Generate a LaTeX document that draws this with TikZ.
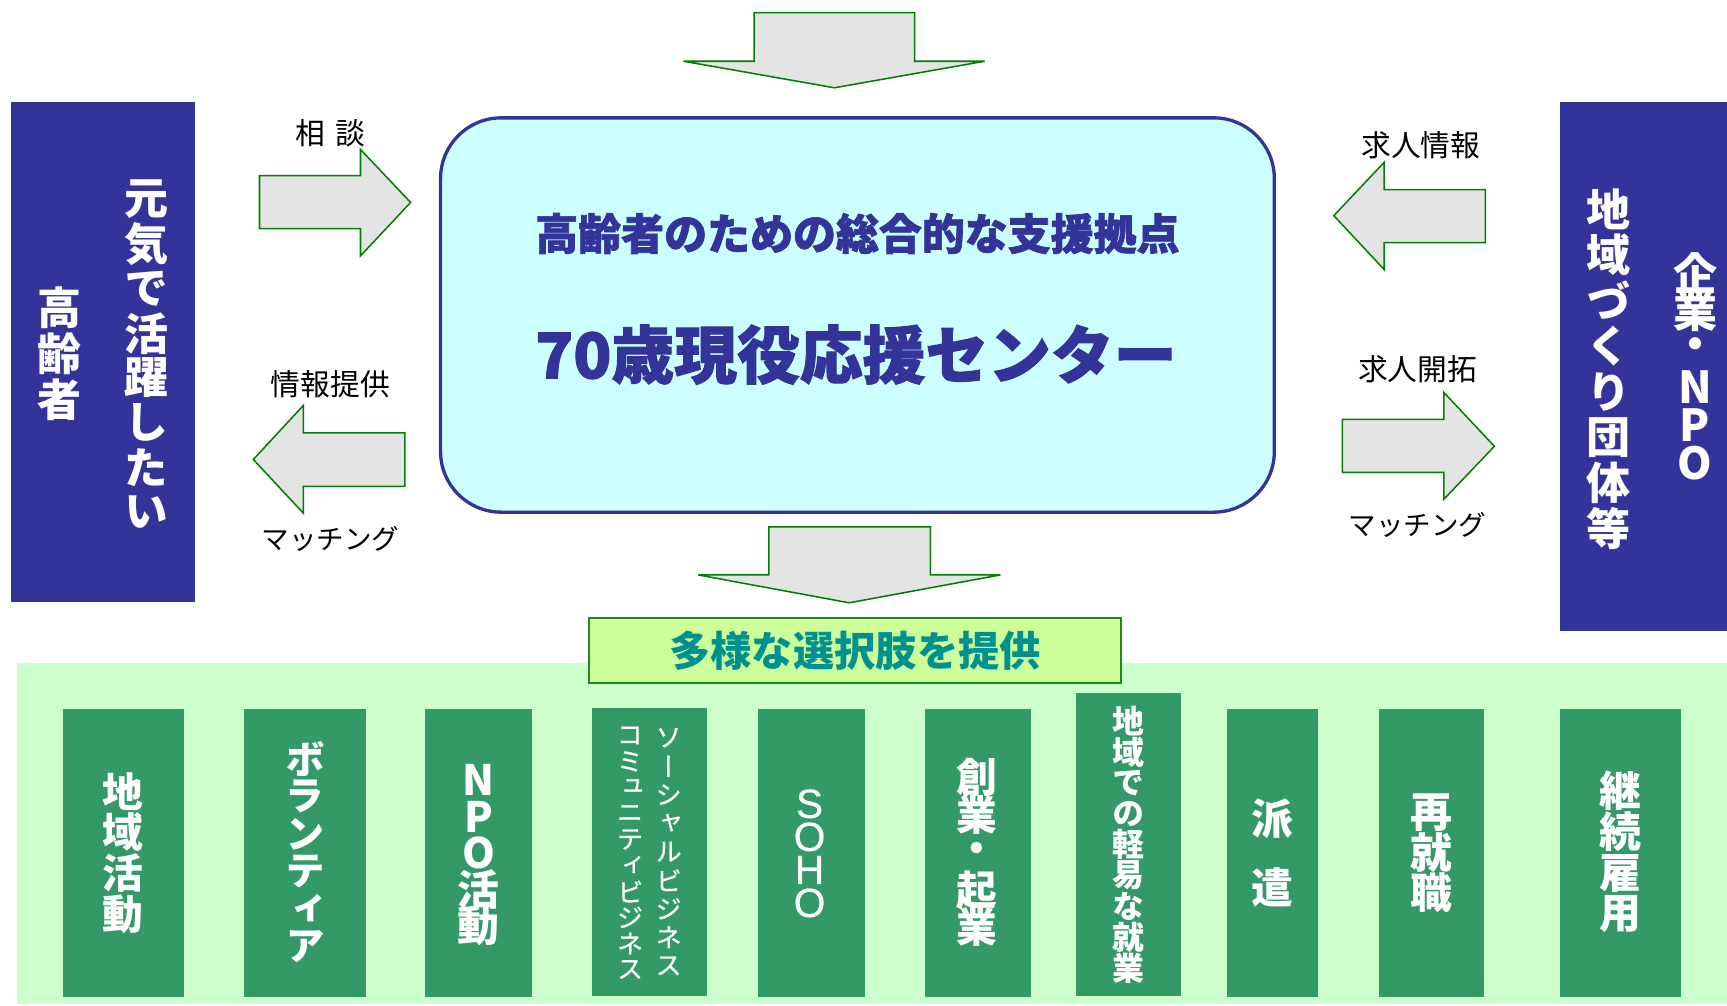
\documentclass[tikz,border=0pt]{standalone}
\usepackage{fontspec}
\usepackage{graphicx}
\newfontfamily\jp{Noto Sans CJK JP}
\newfontfamily\jpv{Noto Sans CJK JP}[RawFeature=+vert]
\newfontfamily\jpvm{Noto Sans CJK JP}[RawFeature=+vert, FakeBold=0.6]
\newfontfamily\jph{Noto Sans CJK JP}[BoldFeatures={FakeBold=1.6}]
\newfontfamily\lat{Liberation Sans}[FakeBold=0.5]
\definecolor{myblue}{HTML}{333399}
\definecolor{cyanfill}{HTML}{CCFFFF}
\definecolor{arrowgray}{HTML}{E4E4E4}
\definecolor{arrowgreen}{HTML}{008000}
\definecolor{titlefill}{HTML}{CCFF99}
\definecolor{titleborder}{HTML}{1E8A1E}
\definecolor{tealtext}{HTML}{009090}
\definecolor{areagreen}{HTML}{CCFFCC}
\definecolor{colgreen}{HTML}{339966}
\makeatletter
\newdimen\vtstep
\def\vt@end{\vt@end}
\newcommand\vt[2][1em]{\vbox{\offinterlineskip\vtstep=#1\relax\vt@aux#2\vt@end}}
\def\vt@aux#1{\ifx#1\vt@end\else\vbox to\vtstep{\vss\hbox to 1em{\hss#1\hss}\vss}\expandafter\vt@aux\fi}
\makeatother
\begin{document}
\begin{tikzpicture}[x=1pt,y=-1pt,
  bluebox/.style={fill=myblue, draw=none, inner sep=0pt},
  col/.style={fill=colgreen, draw=none, inner sep=0pt, minimum height=261},
  vtxt/.style={text=white, inner sep=0pt, font=\jpv\bfseries\fontsize{#1}{#1}\selectfont},
  vtxtr/.style={text=white, inner sep=0pt, font=\jpvm\fontsize{#1}{#1}\selectfont},
  lbl/.style={inner sep=0pt, text=black, font=\jp\fontsize{#1}{#1}\selectfont},
  blockarrow/.style={fill=arrowgray, draw=arrowgreen, line width=1.4, line join=miter}
]
\useasboundingbox (0,0) rectangle (1568,913);

% side boxes
\node[bluebox, minimum width=167, minimum height=454] (left) at (93.5,320) {};
\node[vtxt=40] (genki) at (133,323) {\vt[40.5pt]{元気で活躍したい}};
\node[vtxt=40] (koreisha) at (54,321) {\vt[42pt]{高齢者}};

\node[bluebox, minimum width=152, minimum height=480] (right) at (1492,333) {};
\node[vtxt=40] (chiiki) at (1460,335) {\vt[41.5pt]{地域づくり団体等}};
\node[vtxt=40] (kigyo) at (1539,334) {\vt[34.5pt]{企業・NPO}};

% center box
\node[draw=myblue, fill=cyanfill, line width=3, rounded corners=55,
      minimum width=757, minimum height=358, inner sep=0pt] (center) at (778.5,286) {};
\node[inner sep=0pt, text=myblue, font=\jph\bfseries\fontsize{39}{40}\selectfont] (sub) at (778.5,212) {高齢者のための総合的な支援拠点};
\node[inner sep=0pt, text=myblue, font=\jph\bfseries\fontsize{57}{60}\selectfont] (title) at (777,322) {70歳現役応援センター};

% top and bottom arrows
\draw[blockarrow] (684.6,11.5) -- (830.5,11.5) -- (830.5,55.6) -- (894,55.6) -- (757.6,79.7) -- (620.6,55.6) -- (684.6,55.6) -- cycle;
\draw[blockarrow] (698,478.4) -- (844.7,478.4) -- (844.7,522) -- (908.3,522) -- (771,547.3) -- (634,522) -- (698,522) -- cycle;

% left arrows
\draw[blockarrow] (235.6,159.4) -- (327.3,159.4) -- (327.3,135.7) -- (372.8,183.8) -- (327.3,232.3) -- (327.3,207.5) -- (235.6,207.5) -- cycle;
\draw[blockarrow] (367.6,393) -- (275.5,393) -- (275.5,368) -- (230,417.2) -- (275.5,466) -- (275.5,441.6) -- (367.6,441.6) -- cycle;
% right arrows
\draw[blockarrow] (1348.6,172.2) -- (1256.6,172.2) -- (1256.6,147.5) -- (1211,195.8) -- (1256.6,244.6) -- (1256.6,220.2) -- (1348.6,220.2) -- cycle;
\draw[blockarrow] (1218.7,380.8) -- (1311,380.8) -- (1311,356.4) -- (1356.8,405.2) -- (1311,453.2) -- (1311,428.8) -- (1218.7,428.8) -- cycle;

% arrow labels
\node[lbl=27] (soudan) at (300,121) {相\hspace{.35em}談};
\node[lbl=27] (joho) at (300,349) {情報提供};
\node[lbl=25] (match1) at (300,489) {マッチング};
\node[lbl=27] (kyujin) at (1290,132) {求人情報};
\node[lbl=27] (kaitaku) at (1287,335) {求人開拓};
\node[lbl=25] (match2) at (1287,477) {マッチング};

% bottom area
\node[fill=areagreen, draw=none, inner sep=0pt, minimum width=1552.4, minimum height=310] (area) at (791.8,757) {};
\node[draw=titleborder, fill=titlefill, line width=2, minimum width=483, minimum height=59, inner sep=0pt,
      text=tealtext, font=\jp\bfseries\fontsize{37.5}{40}\selectfont] (choice) at (776.5,590.5) {多様な選択肢を提供};

% option columns
\node[col, minimum width=109.5] (c1) at (112,774.3) {};
\node[vtxt=37] (t1) at (c1) {\vt[37pt]{地域活動}};
\node[col, minimum width=110.5] (c2) at (276.8,774.3) {};
\node[vtxt=36] (t2) at (c2) {\vt[34pt]{ボランティア}};
\node[col, minimum width=97.5] (c3) at (434.5,774.3) {};
\node[vtxt=38] (t3) at (c3) {\vt[33pt]{NPO活動}};
\node[col, minimum width=104.8] (c4) at (589.8,773.4) {};
\node[vtxtr=24] (t4a) at (607,773.3) {\vt[25.9pt]{ソーシャルビジネス}};
\node[vtxtr=24] (t4b) at (572,774) {\vt[23.6pt]{コミュニティビジネス}};
\node[col, minimum width=96.4] (c5) at (736.8,774.3) {};
\node[text=white, inner sep=0pt, font=\lat\fontsize{37}{37}\selectfont] (t5) at (735,774.8) {\vt[30pt]{SOHO}};
\node[col, minimum width=96.7] (c6) at (888,774.3) {};
\node[vtxt=37] (t6) at (887,774) {\vt[34pt]{創業・起業}};
\node[col, minimum width=95.7, minimum height=275] (c7) at (1024.8,766.8) {};
\node[vtxt=29] (t7) at (1025,767) {\vt[28pt]{地域での軽易な就業}};
\node[col, minimum width=82.4] (c8) at (1155.1,774.3) {};
\node[vtxt=38] (t8) at (1155.5,774.5) {\vt[31.5pt]{派　遣}};
\node[col, minimum width=95.6] (c9) at (1300,774.3) {};
\node[vtxt=38] (t9) at (c9) {\vt[36.5pt]{再就職}};
\node[col, minimum width=109.3] (c10) at (1471.2,774.3) {};
\node[vtxt=38] (t10) at (1471,774) {\vt[37.5pt]{継続雇用}};
\end{tikzpicture}
\end{document}
